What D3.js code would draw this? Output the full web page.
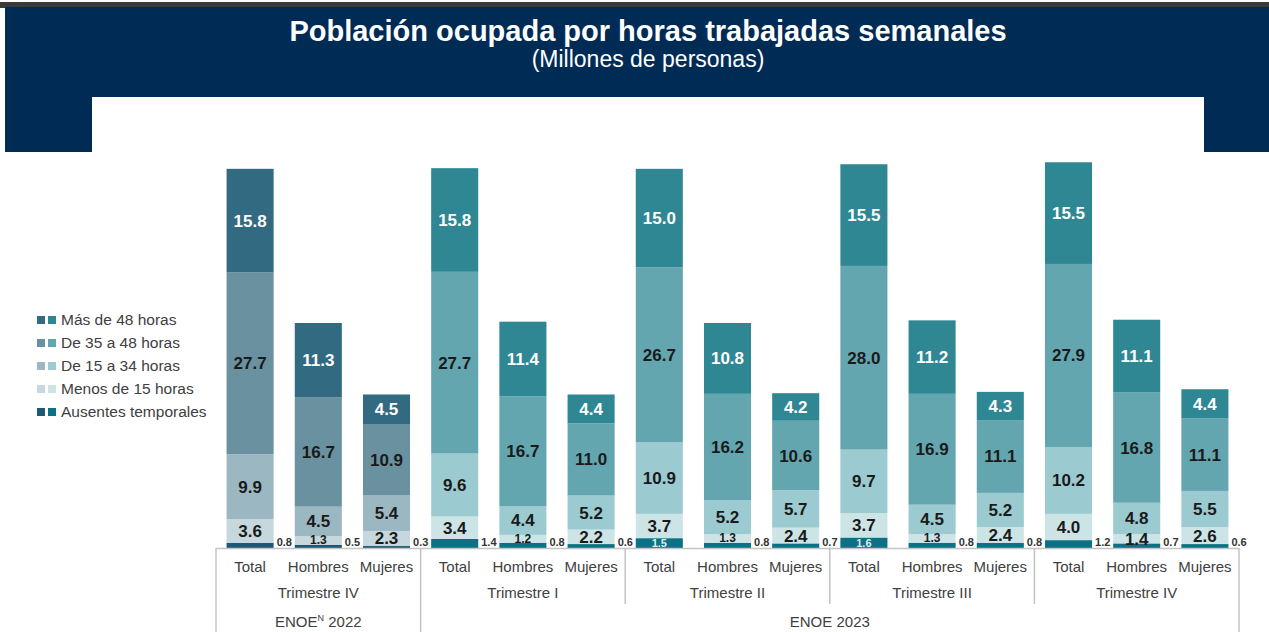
<!DOCTYPE html>
<html>
<head>
<meta charset="utf-8">
<script src="https://cdn.jsdelivr.net/npm/d3@7"></script>
<style>
  body { margin: 0; background: #fff; }
  svg { display: block; font-family: "Liberation Sans", Arial, sans-serif; }
</style>
</head>
<body>
<svg id="chart" width="1269" height="632"></svg>
<script>
// Datos (millones de personas)
const sexos = ['Total', 'Hombres', 'Mujeres'];
const trimestres = ['Trimestre IV', 'Trimestre I', 'Trimestre II', 'Trimestre III', 'Trimestre IV'];
const anios = ['ENOE', 'ENOE 2023'];
const seriesNombres = ['Ausentes temporales', 'Menos de 15 horas', 'De 15 a 34 horas', 'De 35 a 48 horas', 'Más de 48 horas'];

const ausentes = [0.8, 0.5, 0.3, 1.4, 0.8, 0.6, 1.5, 0.8, 0.7, 1.6, 0.8, 0.8, 1.2, 0.7, 0.6];
const menos15  = [3.6, 1.3, 2.3, 3.4, 1.2, 2.2, 3.7, 1.3, 2.4, 3.7, 1.3, 2.4, 4.0, 1.4, 2.6];
const de15a34  = [9.9, 4.5, 5.4, 9.6, 4.4, 5.2, 10.9, 5.2, 5.7, 9.7, 4.5, 5.2, 10.2, 4.8, 5.5];
const de35a48  = [27.7, 16.7, 10.9, 27.7, 16.7, 11.0, 26.7, 16.2, 10.6, 28.0, 16.9, 11.1, 27.9, 16.8, 11.1];
const mas48    = [15.8, 11.3, 4.5, 15.8, 11.4, 4.4, 15.0, 10.8, 4.2, 15.5, 11.2, 4.3, 15.5, 11.1, 4.4];

// paletas: 2022 (azul grisaceo) y 2023 (turquesa)
const colores2022 = ['#1d5874', '#c6d8dd', '#9bb8c2', '#6a919f', '#326a82'];
const colores2023 = ['#0b7184', '#cde4e7', '#9bcbd1', '#64a6af', '#2f8794'];

const svg = d3.select('#chart');
const keys = ['aus', 'm15', 'd15', 'd35', 'm48'];
const rows = ausentes.map((d, i) => ({
    idx: i,
    aus: ausentes[i], m15: menos15[i], d15: de15a34[i], d35: de35a48[i], m48: mas48[i]
}));

// Encabezado
svg.append('rect').attr('x', 0).attr('y', 2).attr('width', 1269).attr('height', 6).attr('fill', '#3a3a3a');
svg.append('rect').attr('x', 5).attr('y', 7).attr('width', 1264).attr('height', 145).attr('fill', '#002b54');
svg.append('rect').attr('x', 92).attr('y', 97).attr('width', 1112).attr('height', 56).attr('fill', '#fff');

svg.append('text')
    .attr('x', 648).attr('y', 41)
    .attr('text-anchor', 'middle')
    .style('font-size', '29px').style('font-weight', 'bold').style('fill', '#fff')
    .text('Población ocupada por horas trabajadas semanales');
svg.append('text')
    .attr('x', 648).attr('y', 67)
    .attr('text-anchor', 'middle')
    .style('font-size', '23px').style('fill', '#fff')
    .text('(Millones de personas)');

// Escalas
const baseY = 548;
const x = d3.scaleBand()
    .domain(d3.range(rows.length))
    .range([216, 1239])
    .paddingInner(0.31)
    .paddingOuter(0.155);
const y = d3.scaleLinear().domain([0, 60]).range([baseY, baseY - 60 * 6.56]);

const stack = d3.stack().keys(keys);
const stacked = stack(rows);

const colorDe = (k, i) => (i < 3 ? colores2022 : colores2023)[k];

const capas = svg.append('g').selectAll('g')
    .data(stacked)
    .join('g');

capas.selectAll('rect')
    .data((s, k) => s.map(d => ({ d, k })))
    .join('rect')
    .attr('x', p => x(p.d.data.idx))
    .attr('width', x.bandwidth())
    .attr('y', p => y(p.d[1]))
    .attr('height', p => y(p.d[0]) - y(p.d[1]))
    .attr('fill', p => colorDe(p.k, p.d.data.idx));

// Etiquetas de valores
stacked.forEach((s, k) => {
    s.forEach(d => {
        const v = d[1] - d[0];
        const i = d.data.idx;
        const cx = x(i) + x.bandwidth() / 2;
        const cy = (y(d[0]) + y(d[1])) / 2;
        if (k === 0) {
            if (v >= 1.5) {
                svg.append('text')
                    .attr('x', cx).attr('y', cy + 4)
                    .attr('text-anchor', 'middle')
                    .style('font-size', '11px').style('font-weight', 'bold').style('fill', '#d8eef0')
                    .text(v.toFixed(1));
            } else {
                svg.append('text')
                    .attr('x', x(i) + x.bandwidth() + 3).attr('y', baseY - 2)
                    .style('font-size', '11px').style('font-weight', 'bold').style('fill', '#333')
                    .text(v.toFixed(1));
            }
            return;
        }
        const small = k === 1 && v < 1.35;
        svg.append('text')
            .attr('x', cx).attr('y', cy + (small ? 4 : 6))
            .attr('text-anchor', 'middle')
            .style('font-size', small ? '12px' : '17px')
            .style('font-weight', 'bold')
            .style('fill', k === 4 ? '#fff' : '#1a1a1a')
            .text(v.toFixed(1));
    });
});

// Eje de categorias
const gris = '#c4c4c4';
const step = x.step();
const x0 = x.range()[0];
const eje = svg.append('g');
eje.append('line')
    .attr('x1', x0).attr('x2', x.range()[1])
    .attr('y1', baseY + 0.5).attr('y2', baseY + 0.5)
    .attr('stroke', gris).attr('stroke-width', 1.5);

d3.range(0, rows.length + 1, 3).forEach(b => {
    const largo = (b === 0 || b === 3 || b === rows.length);
    eje.append('line')
        .attr('x1', x0 + b * step).attr('x2', x0 + b * step)
        .attr('y1', baseY).attr('y2', largo ? 632 : 604)
        .attr('stroke', gris).attr('stroke-width', 1.5);
});

rows.forEach(r => {
    eje.append('text')
        .attr('x', x(r.idx) + x.bandwidth() / 2).attr('y', 572)
        .attr('text-anchor', 'middle')
        .style('font-size', '15px').style('fill', '#404040')
        .text(sexos[r.idx % 3]);
});

trimestres.forEach((t, g) => {
    eje.append('text')
        .attr('x', x0 + (g * 3 + 1.5) * step).attr('y', 598)
        .attr('text-anchor', 'middle')
        .style('font-size', '15px').style('fill', '#404040')
        .text(t);
});

const enoe22 = eje.append('text')
    .attr('x', x0 + 1.5 * step).attr('y', 627)
    .attr('text-anchor', 'middle')
    .style('font-size', '15px').style('fill', '#404040');
enoe22.append('tspan').text(anios[0]);
enoe22.append('tspan').attr('dy', -6).style('font-size', '9px').text('N');
enoe22.append('tspan').attr('dy', 6).text(' 2022');

eje.append('text')
    .attr('x', x0 + 9 * step).attr('y', 627)
    .attr('text-anchor', 'middle')
    .style('font-size', '15px').style('fill', '#404040')
    .text(anios[1]);

// Leyenda (de arriba hacia abajo)
const leyenda = svg.append('g');
[4, 3, 2, 1, 0].forEach((k, j) => {
    const ly = 320 + j * 23;
    leyenda.append('rect').attr('x', 37).attr('y', ly - 4).attr('width', 8).attr('height', 8).attr('fill', colores2022[k]);
    leyenda.append('rect').attr('x', 48).attr('y', ly - 4).attr('width', 8).attr('height', 8).attr('fill', colores2023[k]);
    leyenda.append('text')
        .attr('x', 61).attr('y', ly + 5)
        .style('font-size', '15.5px').style('fill', '#404040')
        .text(seriesNombres[k]);
});
</script>
</body>
</html>
